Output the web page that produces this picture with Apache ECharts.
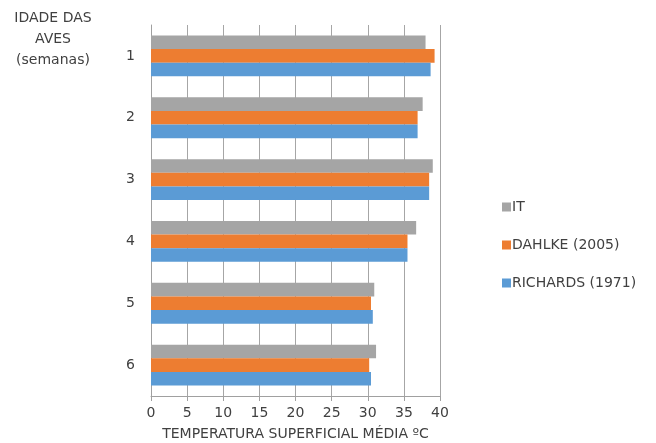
<!DOCTYPE html>
<html><head><meta charset="utf-8">
<script src="https://cdn.jsdelivr.net/npm/echarts@6/dist/echarts.min.js"></script>
<style>html,body{margin:0;padding:0;background:#fff}#c{width:656px;height:443px}</style>
</head><body><div id="c"></div>
<script>
const categories = ['1','2','3','4','5','6'];
const itValues = [38.0, 37.6, 39.0, 36.7, 30.9, 31.15];
const dahlkeValues = [39.25, 36.9, 38.5, 35.5, 30.45, 30.2];
const richardsValues = [38.7, 36.9, 38.5, 35.5, 30.7, 30.45];
const xTicks = { min: 0, max: 40, interval: 5 };
const seriesNames = ['RICHARDS (1971)', 'DAHLKE (2005)', 'IT'];
const font = '"DejaVu Sans", sans-serif';
const fs = 14;
const txt = '#404040';
const chart = echarts.init(document.getElementById('c'), null, {renderer:'canvas'});
chart.setOption({
  animation: false,
  textStyle: {fontFamily: font},
  grid: {left: 151, right: 216, top: 25, bottom: 47, containLabel: false, outerBoundsMode: 'none'},
  legend: {
    orient: 'vertical', left: 497, top: 195, itemGap: 24,
    itemWidth: 9, itemHeight: 9, icon: 'rect',
    data: ['IT','DAHLKE (2005)','RICHARDS (1971)'],
    textStyle: {fontSize: fs, color: txt, fontFamily: font, padding: [0,0,0,-4]}
  },
  graphic: [{
    type: 'text', x: 53, y: 8,
    style: {text: 'IDADE DAS\nAVES\n(semanas)', fontSize: fs, fontFamily: font, lineHeight: 21, fill: txt, textAlign: 'center'}
  }],
  xAxis: {
    type: 'value', min: xTicks.min, max: xTicks.max, interval: xTicks.interval,
    axisLine: {show: true, lineStyle: {color: '#a0a0a0'}},
    axisTick: {show: true, length: 5, lineStyle: {color: '#a0a0a0'}},
    splitLine: {show: true, lineStyle: {color: '#a6a6a6', width: 1}},
    axisLabel: {fontSize: fs, color: txt, margin: 10},
    name: 'TEMPERATURA SUPERFICIAL MÉDIA ºC', nameLocation: 'middle', nameGap: 31,
    nameTextStyle: {fontSize: fs, color: txt}
  },
  yAxis: {
    type: 'category', data: categories, inverse: true,
    axisLine: {show: true, lineStyle: {color: '#a0a0a0'}},
    axisTick: {show: false},
    axisLabel: {fontSize: fs, color: txt, margin: 16}
  },
  series: [
    {name: seriesNames[2], type: 'bar', data: itValues, itemStyle: {color: '#a5a5a5'}, barGap: '0%', barCategoryGap: '34%'},
    {name: seriesNames[1], type: 'bar', data: dahlkeValues, itemStyle: {color: '#ed7d31'}, barGap: '0%', barCategoryGap: '34%'},
    {name: seriesNames[0], type: 'bar', data: richardsValues, itemStyle: {color: '#5b9bd5'}, barGap: '0%', barCategoryGap: '34%'}
  ]
});
</script></body></html>
